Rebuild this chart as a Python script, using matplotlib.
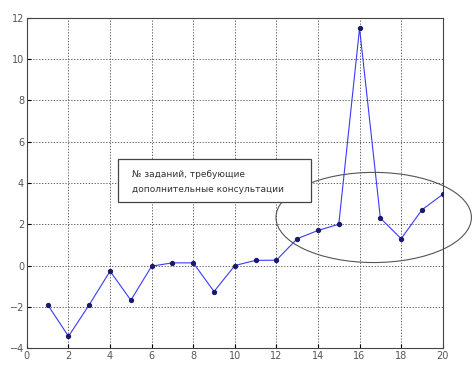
import matplotlib
matplotlib.use("Agg")
import matplotlib.pyplot as plt
from matplotlib.patches import Ellipse, Rectangle

# task number vs score
task = list(range(1, 21))
score = [-1.9, -3.43, -1.9, -0.27, -1.68, -0.03, 0.13, 0.13, -1.26, 0.0,
         0.25, 0.26, 1.3, 1.7, 2.0, 11.5, 2.3, 1.3, 2.7, 3.45]
x_ticks = list(range(0, 21, 2))
y_ticks = list(range(-4, 13, 2))
note = "№ заданий, требующие\nдополнительные консультации"

fig = plt.figure(figsize=(4.72, 3.66), dpi=100)
ax = fig.add_axes([0.057, 0.049, 0.881, 0.902])

ax.plot(task, score, color="#3a3aff", lw=0.8, marker="o", ms=2.8,
        mfc="#1a1a6a", mec="#1a1a6a", zorder=3)

ax.set_xlim(0, 20)
ax.set_ylim(-4, 12)
ax.set_xticks(x_ticks)
ax.set_yticks(y_ticks)
ax.tick_params(direction="in", labelsize=7, labelcolor="#555555", length=3, pad=2)
ax.grid(True, color="#444444", ls=(0, (1.5, 2)), lw=0.6)
for s in ax.spines.values():
    s.set_color("#444444")
    s.set_linewidth(0.8)

ell = Ellipse((16.68, 2.33), 9.4, 4.37, fill=False, ec="#555555", lw=0.8,
              clip_on=False, zorder=4)
ax.add_patch(ell)

# annotation box drawn on top of the ellipse
ax.add_patch(Rectangle((4.375, 3.1), 9.3, 2.05, fc="white", ec="#444444",
                       lw=0.9, zorder=5))
ax.text(5.05, 4.05, note, fontsize=6.5, color="#333333", va="center", ha="left",
        linespacing=1.75, zorder=6)

fig.savefig("out.png", dpi=100)
